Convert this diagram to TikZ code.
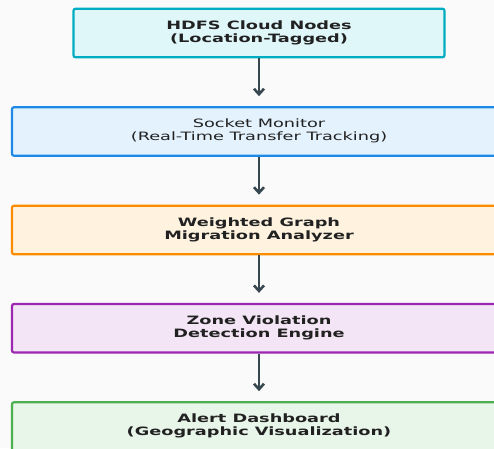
\documentclass[tikz,border=0pt]{standalone}
\usepackage{fontspec}
\setmainfont{DejaVu Sans}
\usetikzlibrary{arrows.meta}
\definecolor{bg}{HTML}{FAFAFA}
\definecolor{ink}{HTML}{212121}
\definecolor{arrowc}{HTML}{37474F}
\definecolor{cyanB}{HTML}{00ACC1}\definecolor{cyanF}{HTML}{E0F7FA}
\definecolor{blueB}{HTML}{1E88E5}\definecolor{blueF}{HTML}{E3F2FD}
\definecolor{orangeB}{HTML}{FB8C00}\definecolor{orangeF}{HTML}{FFF3E0}
\definecolor{purpleB}{HTML}{9C27B0}\definecolor{purpleF}{HTML}{F3E5F5}
\definecolor{greenB}{HTML}{4CAF50}\definecolor{greenF}{HTML}{E8F5E9}
% wide two-line label
\newcommand{\widelabel}[1]{\scalebox{1.54}[1]{\fontsize{11.5}{13.2}\selectfont\begin{tabular}{@{}c@{}}#1\end{tabular}}}
\tikzset{
  stage/.style={draw=#1B, fill=#1F, line width=2.2pt, rounded corners=2pt,
    minimum height=48.5pt, inner sep=0pt, text=ink},
  flow/.style={draw=arrowc, line width=2.5pt, shorten >=10pt,
    -{Straight Barb[length=5.5pt,width=10pt,line width=2.6pt]}},
}
\begin{document}
\begin{tikzpicture}[x=1pt,y=-1pt]
\fill[bg] (0,0) rectangle (494,448);
\useasboundingbox (0,0) rectangle (494,448);
\clip (0,0) rectangle (494,448);
\node[stage=cyan, minimum width=371pt] (hdfs) at (259,33)
  {\widelabel{\bfseries HDFS Cloud Nodes\\\bfseries (Location-Tagged)}};
\node[stage=blue, minimum width=494pt] (sock) at (259,131.5)
  {\widelabel{Socket Monitor\\(Real-Time Transfer Tracking)}};
\node[stage=orange, minimum width=494pt] (graph) at (259,230)
  {\widelabel{\bfseries Weighted Graph\\\bfseries Migration Analyzer}};
\node[stage=purple, minimum width=494pt] (zone) at (259,328.2)
  {\widelabel{\bfseries Zone Violation\\\bfseries Detection Engine}};
\node[stage=green, minimum width=494pt] (alert) at (259,426.5)
  {\widelabel{\bfseries Alert Dashboard\\\bfseries (Geographic Visualization)}};
\draw[flow] (hdfs) -- (sock);
\draw[flow] (sock) -- (graph);
\draw[flow] (graph) -- (zone);
\draw[flow] (zone) -- (alert);
\end{tikzpicture}
\end{document}
